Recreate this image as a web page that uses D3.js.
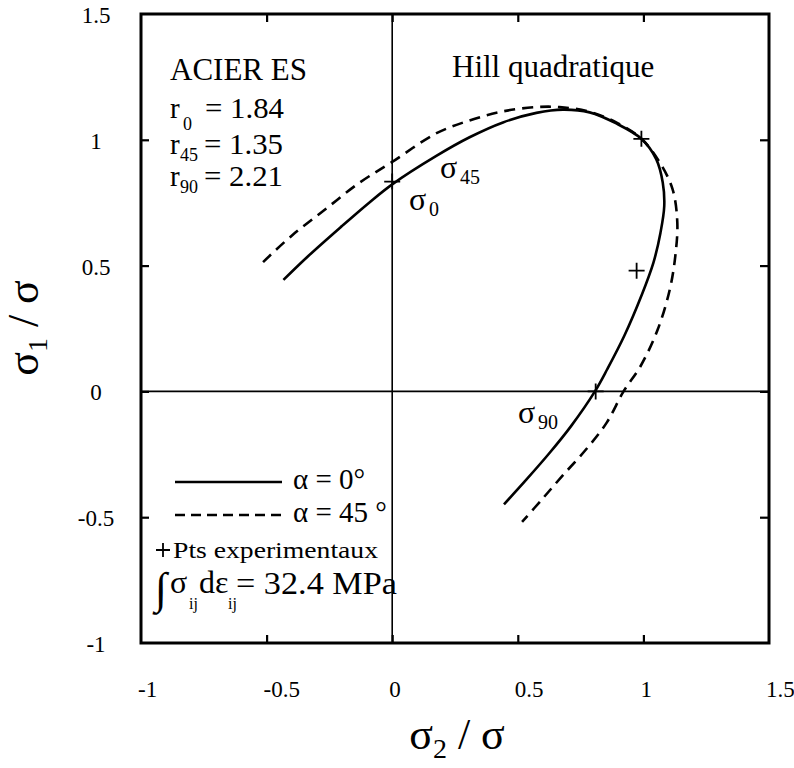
<!DOCTYPE html>
<html>
<head>
<meta charset="utf-8">
<script src="https://cdn.jsdelivr.net/npm/d3@7"></script>
<style>
  html, body { margin: 0; padding: 0; background: #fff; }
  svg text { font-family: "Liberation Serif", "Times New Roman", serif; fill: #000; }
</style>
</head>
<body>
<svg id="chart" width="794" height="768"></svg>
<script>
// ---- data ----
const xTicks = [-1, -0.5, 0, 0.5, 1, 1.5];
const yTicks = [-1, -0.5, 0, 0.5, 1, 1.5];
const xTickLabels = ["-1", "-0.5", "0", "0.5", "1", "1.5"];
const yTickLabels = ["-1", "-0.5", "0", "0.5", "1", "1.5"];

// alpha = 0 deg (solid)  [sigma2/sigma, sigma1/sigma]
const alpha0X = [-0.433, -0.334, -0.200, -0.093, 0.000, 0.174, 0.308, 0.441, 0.574, 0.680, 0.786, 0.892, 0.992, 1.051, 1.077, 1.083, 1.068, 1.040, 0.992, 0.924, 0.856, 0.807, 0.712, 0.627, 0.533, 0.445];
const alpha0Y = [0.443, 0.538, 0.657, 0.749, 0.823, 0.935, 1.010, 1.069, 1.107, 1.120, 1.109, 1.065, 1.004, 0.923, 0.830, 0.737, 0.631, 0.512, 0.380, 0.221, 0.088, 0.000, -0.138, -0.244, -0.352, -0.449];

// alpha = 45 deg (dashed)
const alpha45X = [-0.514, -0.400, -0.266, -0.131, 0.000, 0.174, 0.308, 0.441, 0.574, 0.666, 0.780, 0.890, 0.990, 1.065, 1.116, 1.135, 1.127, 1.105, 1.057, 0.989, 0.921, 0.854, 0.773, 0.679, 0.598, 0.517];
const alpha45Y = [0.514, 0.619, 0.724, 0.829, 0.912, 1.025, 1.077, 1.113, 1.130, 1.130, 1.113, 1.070, 1.006, 0.910, 0.804, 0.671, 0.538, 0.405, 0.246, 0.101, 0.000, -0.124, -0.229, -0.334, -0.427, -0.519];

// experimental points
const expX = [0.000, 0.992, 0.973, 0.810];
const expY = [0.834, 1.004, 0.480, 0.000];

const rValues = [["0", "1.84"], ["45", "1.35"], ["90", "2.21"]];

// ---- layout ----
const svg = d3.select("#chart");
const L = 141, R = 769, T = 14, B = 643;
const x = d3.scaleLinear().domain([-1, 1.5]).range([L, R]);
const y = d3.scaleLinear().domain([-1, 1.5]).range([B, T]);

// zero axes
svg.append("line").attr("x1", x(0)).attr("x2", x(0)).attr("y1", T).attr("y2", B)
  .attr("stroke", "#000").attr("stroke-width", 1.6);
svg.append("line").attr("x1", L).attr("x2", R).attr("y1", y(0)).attr("y2", y(0))
  .attr("stroke", "#000").attr("stroke-width", 1.6);

// inner ticks via d3 axes
const innerX = xTicks.filter(v => v > -1 && v < 1.5);
const innerY = yTicks.filter(v => v > -1 && v < 1.5);
function styleAxis(g) {
  g.select(".domain").remove();
  g.selectAll(".tick line").attr("stroke", "#000").attr("stroke-width", 2.2);
  g.selectAll(".tick text").remove();
}
svg.append("g").attr("transform", `translate(0,${B})`)
  .call(d3.axisTop(x).tickValues(innerX).tickSize(8)).call(styleAxis);
svg.append("g").attr("transform", `translate(0,${T})`)
  .call(d3.axisBottom(x).tickValues(innerX).tickSize(8)).call(styleAxis);
svg.append("g").attr("transform", `translate(${L},0)`)
  .call(d3.axisRight(y).tickValues(innerY).tickSize(8)).call(styleAxis);
svg.append("g").attr("transform", `translate(${R},0)`)
  .call(d3.axisLeft(y).tickValues(innerY).tickSize(9)).call(styleAxis);

// tick labels
svg.append("g").selectAll("text").data(xTicks).join("text")
  .attr("x", d => x(d) - 3).attr("y", 697)
  .attr("text-anchor", "start").attr("font-size", 23)
  .text((d, i) => xTickLabels[i]);
svg.append("g").selectAll("text").data(yTicks).join("text")
  .attr("x", 96).attr("y", d => y(d) + 9)
  .attr("text-anchor", "middle").attr("font-size", 23)
  .text((d, i) => yTickLabels[i]);

// frame
svg.append("rect").attr("x", L).attr("y", T).attr("width", R - L).attr("height", B - T)
  .attr("fill", "none").attr("stroke", "#000").attr("stroke-width", 3);

// curves
const line = d3.line().x(d => x(d[0])).y(d => y(d[1])).curve(d3.curveCatmullRom.alpha(0.5));
const solidPts = alpha0X.map((v, i) => [v, alpha0Y[i]]);
const dashPts = alpha45X.map((v, i) => [v, alpha45Y[i]]);
svg.append("path").attr("d", line(solidPts)).attr("fill", "none")
  .attr("stroke", "#000").attr("stroke-width", 2.6);
svg.append("path").attr("d", line(dashPts)).attr("fill", "none")
  .attr("stroke", "#000").attr("stroke-width", 2.6).attr("stroke-dasharray", "11,7");

// experimental markers
function plus(cx, cy, s) {
  svg.append("path").attr("d", `M${cx - s},${cy}H${cx + s}M${cx},${cy - s}V${cy + s}`)
    .attr("stroke", "#000").attr("stroke-width", 1.8).attr("fill", "none");
}
expX.forEach((v, i) => plus(x(v), y(expY[i]), 8));

// labels in plot
svg.append("text").attr("x", 170).attr("y", 80).attr("font-size", 31).text("ACIER ES");
svg.append("text").attr("x", 452).attr("y", 77).attr("font-size", 31).text("Hill quadratique");

const rBase = [118, 154, 186];
const subBase = [130, 161, 193];
const subX = [183, 180, 180];
const eqX = [205, 204, 204];
rValues.forEach((r, i) => {
  svg.append("text").attr("x", 170).attr("y", rBase[i]).attr("font-size", 29).text("r");
  svg.append("text").attr("x", subX[i]).attr("y", subBase[i]).attr("font-size", 18).text(r[0]);
  svg.append("text").attr("x", eqX[i]).attr("y", rBase[i]).attr("font-size", 29)
    .attr("textLength", 79).attr("lengthAdjust", "spacingAndGlyphs").text("= " + r[1]);
});

function sigmaLabel(px, py, sub) {
  svg.append("text").attr("x", px).attr("y", py).attr("font-size", 32).text("σ");
  svg.append("text").attr("x", px + 20).attr("y", py + 6).attr("font-size", 20).text(sub);
}
sigmaLabel(440, 178, "45");
sigmaLabel(409, 210, "0");
sigmaLabel(518, 423, "90");

// legend
svg.append("line").attr("x1", 175).attr("x2", 282).attr("y1", 482).attr("y2", 482)
  .attr("stroke", "#000").attr("stroke-width", 2.4);
svg.append("line").attr("x1", 175).attr("x2", 282).attr("y1", 515).attr("y2", 515)
  .attr("stroke", "#000").attr("stroke-width", 2.4).attr("stroke-dasharray", "10,6");
svg.append("text").attr("x", 293).attr("y", 489).attr("font-size", 29).text("α = 0°");
svg.append("text").attr("x", 293).attr("y", 522).attr("font-size", 29).text("α = 45 °");
plus(163, 550, 7);
svg.append("text").attr("x", 173).attr("y", 558).attr("font-size", 24)
  .attr("textLength", 205).attr("lengthAdjust", "spacingAndGlyphs").text("Pts experimentaux");
svg.append("text").attr("x", 155).attr("y", 603).attr("font-size", 44).text("∫");
svg.append("text").attr("x", 170).attr("y", 593).attr("font-size", 32).text("σ");
svg.append("text").attr("x", 189).attr("y", 609).attr("font-size", 16).text("ij");
svg.append("text").attr("x", 199).attr("y", 593).attr("font-size", 32).text("dε");
svg.append("text").attr("x", 228).attr("y", 609).attr("font-size", 16).text("ij");
svg.append("text").attr("x", 236).attr("y", 594).attr("font-size", 32)
  .attr("textLength", 161).attr("lengthAdjust", "spacingAndGlyphs").text("= 32.4 MPa");

// axis titles
const xt = svg.append("text").attr("x", 457).attr("y", 749).attr("text-anchor", "middle").attr("font-size", 44);
xt.append("tspan").text("σ");
xt.append("tspan").attr("font-size", 28).attr("dy", 9).text("2");
xt.append("tspan").attr("dy", -9).text(" / σ");

const yt = svg.append("text").attr("transform", "translate(38,328) rotate(-90)")
  .attr("text-anchor", "middle").attr("font-size", 44);
yt.append("tspan").text("σ");
yt.append("tspan").attr("font-size", 28).attr("dy", 9).text("1");
yt.append("tspan").attr("dy", -9).text(" / σ");
</script>
</body>
</html>
